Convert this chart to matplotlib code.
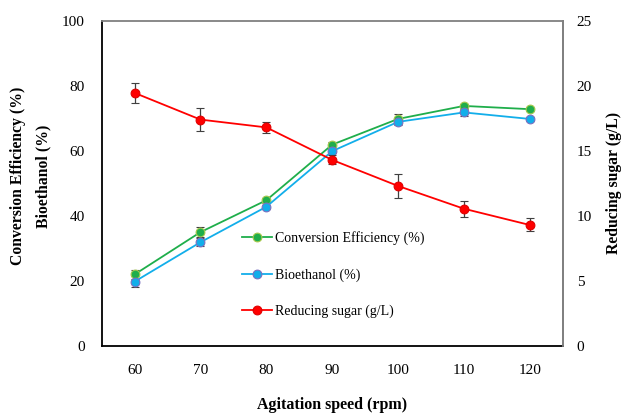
import numpy as np
import matplotlib
matplotlib.use("Agg")
import matplotlib.pyplot as plt

plt.rcParams['font.family'] = ['Liberation Serif', 'DejaVu Serif']

speed = [60, 70, 80, 90, 100, 110, 120]
conversion = [22.0, 35.0, 44.8, 61.9, 69.8, 73.8, 72.8]
conversion_err = [1.5, 1.5, 0.8, 0.8, 1.6, 0.6, 0.5]
bioethanol = [19.8, 31.9, 42.8, 59.9, 68.9, 71.8, 69.8]
bioethanol_err = [1.8, 1.2, 0.6, 0.6, 1.0, 1.2, 0.5]
sugar = [19.45, 17.4, 16.8, 14.3, 12.3, 10.55, 9.3]
sugar_err = [0.8, 0.9, 0.45, 0.35, 0.9, 0.6, 0.5]

fig = plt.figure(figsize=(6.23, 4.13), dpi=100)
ax = fig.add_axes([0.1632, 0.1622, 0.740, 0.7877])
ax2 = ax.twinx()

eb = dict(ecolor='#404040', elinewidth=0.9, capsize=3, capthick=0.9,
          marker='o', markersize=6.3, linewidth=1.3)

h1 = ax.errorbar(speed, conversion, yerr=conversion_err, color='#1fae4b',
                 markerfacecolor='#1fae4b', markeredgecolor='#a6c84c',
                 markeredgewidth=0.8, label='Conversion Efficiency (%)', **eb)
h2 = ax.errorbar(speed, bioethanol, yerr=bioethanol_err, color='#12aeea',
                 markerfacecolor='#12aeea', markeredgecolor='#7a70c0',
                 markeredgewidth=0.8, label='Bioethanol (%)', **eb)
h3 = ax2.errorbar(speed, sugar, yerr=sugar_err, color='#ff0000',
                  markerfacecolor='#ff0000', markeredgecolor='#e00000',
                  markeredgewidth=0.8, label='Reducing sugar (g/L)', **eb)

ax.set_xlim(55, 125)
ax.set_ylim(0, 100)
ax2.set_ylim(0, 25)
ax.set_xticks(speed)
ax.set_yticks(np.arange(0, 101, 20))
ax2.set_yticks(np.arange(0, 26, 5))

for a in (ax, ax2):
    a.tick_params(length=0, labelsize=11, colors='black')
ax.tick_params(axis='x', pad=13)
ax.tick_params(axis='y', pad=12)
ax2.tick_params(axis='y', pad=10)

ax.spines['left'].set_color('black')
ax.spines['bottom'].set_color('black')
ax.spines['left'].set_linewidth(1.3)
ax.spines['bottom'].set_linewidth(1.3)
for s in ('top', 'right'):
    ax.spines[s].set_color('#808080')
    ax.spines[s].set_linewidth(1.3)
ax2.spines['right'].set_color('#808080')
ax2.spines['right'].set_linewidth(1.3)
ax2.spines['top'].set_visible(False)
ax2.spines['left'].set_visible(False)
ax2.spines['bottom'].set_visible(False)

ax.set_xlabel('Agitation speed (rpm)', fontsize=11.5, fontweight='bold', labelpad=14)
fig.text(0.029, 0.574, 'Conversion Efficiency (%)', rotation=90, fontsize=11.3,
         fontweight='bold', ha='center', va='center')
fig.text(0.069, 0.574, 'Bioethanol (%)', rotation=90, fontsize=11.3,
         fontweight='bold', ha='center', va='center')
ax2.set_ylabel('Reducing sugar (g/L)', fontsize=11.3, fontweight='bold', labelpad=10)

handles = [h1, h2, h3]
ax.legend(handles=[h[0] for h in handles],
          labels=[h.get_label() for h in handles],
          loc='upper left', bbox_to_anchor=(0.292, 0.37), frameon=False,
          fontsize=10, handlelength=2.2, handletextpad=0.2, labelspacing=1.65,
          borderaxespad=0)

fig.savefig('out.png', dpi=100)
